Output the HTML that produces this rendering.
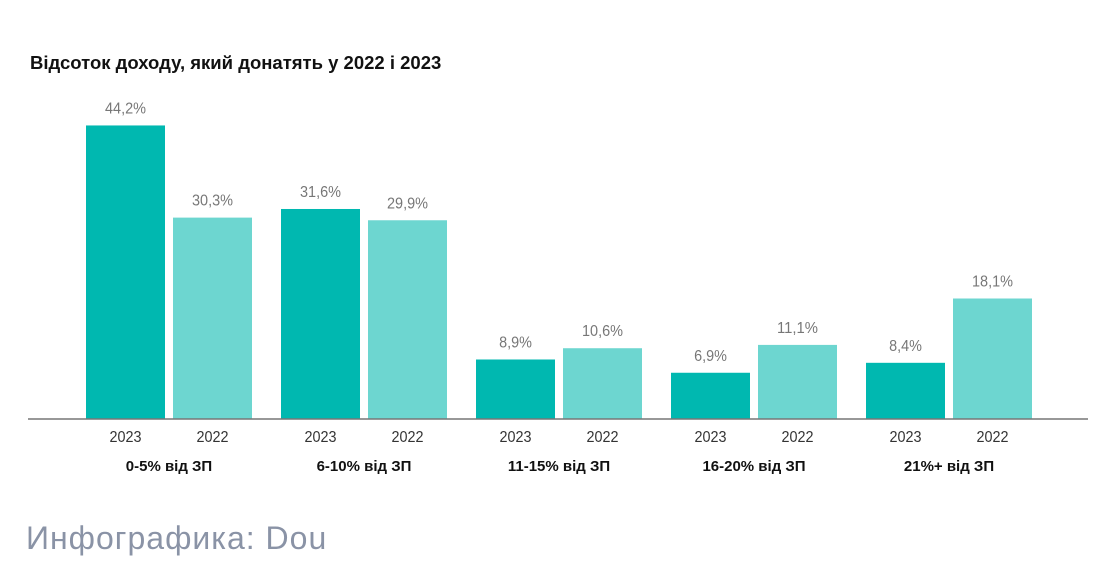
<!DOCTYPE html>
<html><head><meta charset="utf-8"><style>
body{margin:0;background:#fff;width:1108px;height:565px;overflow:hidden;font-family:"Liberation Sans",sans-serif}
.t{position:absolute;left:30px;top:52px;font-size:18.5px;font-weight:bold;color:#111}
.f{position:absolute;left:26px;top:520px;font-size:32px;color:#8a93a6;letter-spacing:1px}
svg{position:absolute;left:0;top:0}
</style></head><body>
<div class="t">Відсоток доходу, який донатять у 2022 і 2023</div>
<div class="f">Инфографика: Dou</div>
<svg id="c" width="1108" height="565"></svg>
<script>
const categories=["0-5% від ЗП","6-10% від ЗП","11-15% від ЗП","16-20% від ЗП","21%+ від ЗП"];
const values2023=[44.2,31.6,8.9,6.9,8.4];
const values2022=[30.3,29.9,10.6,11.1,18.1];
const valueLabels2023=["44,2%","31,6%","8,9%","6,9%","8,4%"];
const valueLabels2022=["30,3%","29,9%","10,6%","11,1%","18,1%"];
const NS="http://www.w3.org/2000/svg",svg=document.getElementById('c');
const base=418.5,scale=6.63,gx0=86,step=195,bw=79,gap=8;
const y=v=>base-v*scale;
const F='"Liberation Sans",sans-serif';
function mk(tag,a){const e=document.createElementNS(NS,tag);for(const k in a)e.setAttribute(k,a[k]);svg.appendChild(e);return e;}
function txt(x,yy,s,size,col,bold,len){const e=mk('text',{x:x,y:yy,'text-anchor':'middle','font-size':size,fill:col,'font-family':F});if(bold)e.setAttribute('font-weight','bold');if(len){e.setAttribute('textLength',len);e.setAttribute('lengthAdjust','spacingAndGlyphs');}e.textContent=s;return e;}
categories.forEach((c,i)=>{
 const x1=gx0+i*step,x2=x1+bw+gap;
 let r=mk('rect',{x:x1,y:y(values2023[i]),width:bw,height:base-y(values2023[i]),fill:'#00b8b0'});
 
 
 r=mk('rect',{x:x2,y:y(values2022[i]),width:bw,height:base-y(values2022[i]),fill:'#6dd6d0'});
 
 
 let t=txt(x1+bw/2,y(values2023[i])-12,valueLabels2023[i],16,'#777',false,valueLabels2023[i].length*8.2);
 
 
 t=txt(x2+bw/2,y(values2022[i])-12,valueLabels2022[i],16,'#777',false,valueLabels2022[i].length*8.2);
 
 
 t=txt(x1+bw/2,442,'2023',16,'#333',false,32);
 
 
 t=txt(x2+bw/2,442,'2022',16,'#333',false,32);
 
 
 t=txt(x1+bw+gap/2,471,c,15,'#111',true);
 
 
});
const ax=mk('line',{x1:28,x2:1088,y1:419,y2:419,stroke:'#777','stroke-width':1.5});


</script>
</body></html>
